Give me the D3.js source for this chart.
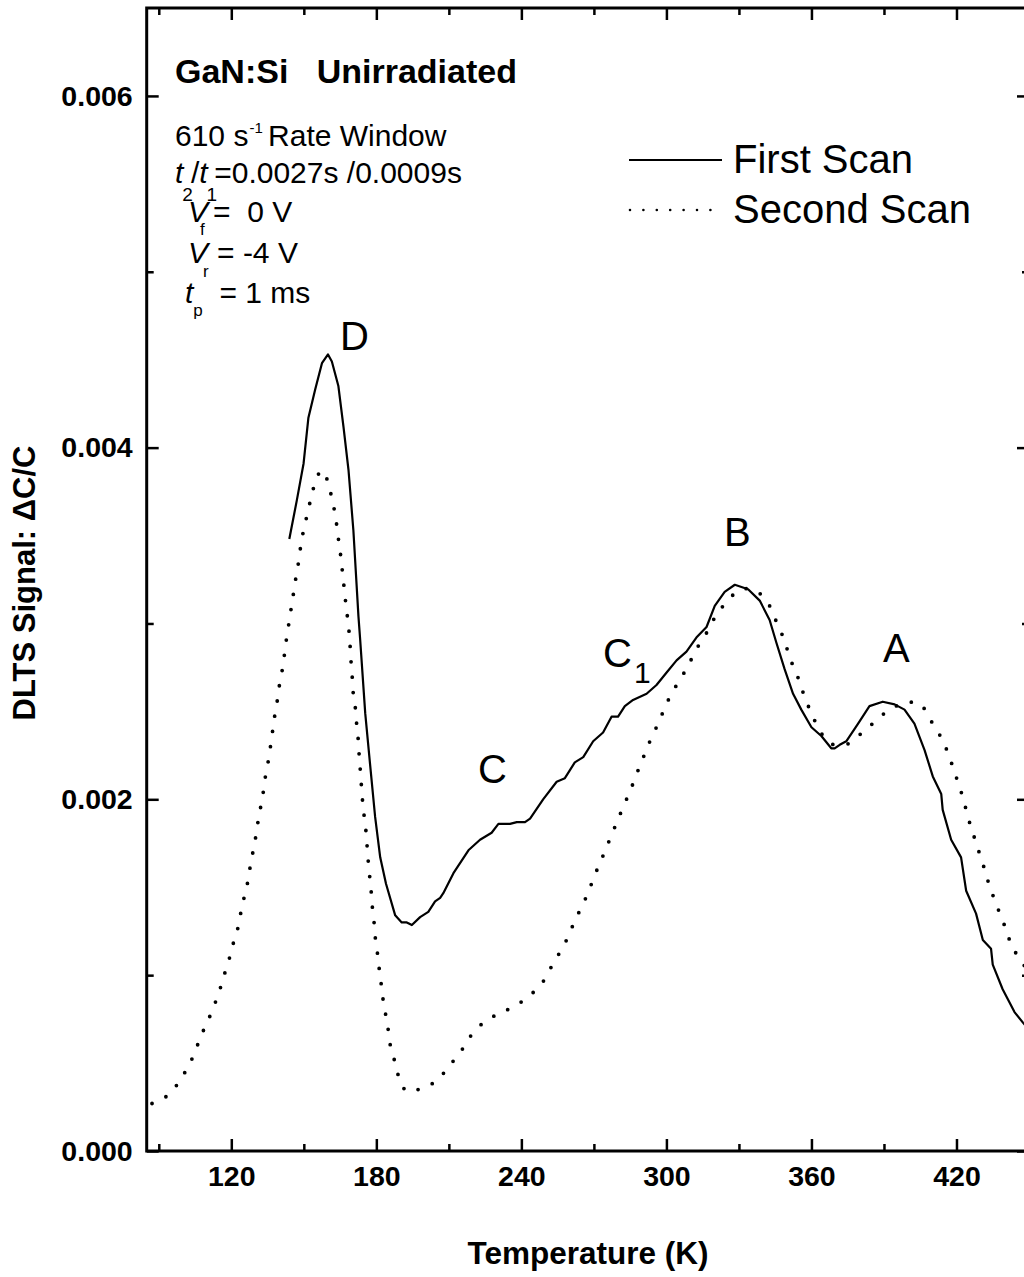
<!DOCTYPE html>
<html>
<head>
<meta charset="utf-8">
<script src="https://cdn.jsdelivr.net/npm/d3@7"></script>
<style>
  html, body { margin: 0; padding: 0; background: #fff; }
  svg { display: block; font-family: "Liberation Sans", Arial, Helvetica, sans-serif; }
  text { white-space: pre; }
</style>
</head>
<body>
<svg id="chart" width="1024" height="1277"></svg>
<script>
// First scan: temperature (K) and DLTS signal ΔC/C
const firstScanT = [144.0, 147.1, 149.9, 151.9, 154.7, 157.5, 160.0, 161.6, 164.3, 166.4, 168.5, 170.5, 172.6, 173.3,
  175.4, 177.4, 179.5, 181.6, 184.0, 187.8, 190.5, 192.6, 194.7, 198.1, 201.5, 204.3, 206.4, 207.7, 211.9, 218.1,
  222.9, 227.7, 230.5, 235.3, 238.1, 241.5, 243.6, 249.0, 254.6, 258.0, 262.1, 265.6, 269.7, 273.8, 277.3, 280.0,
  282.8, 286.2, 291.8, 295.9, 300.0, 304.2, 308.3, 312.4, 316.6, 320.0, 324.1, 328.3, 333.8, 338.6, 342.7, 345.5,
  348.9, 352.4, 355.8, 360.0, 364.1, 368.2, 369.6, 371.7, 374.4, 379.3, 384.0, 389.5, 394.4, 398.5, 402.6, 406.8,
  410.2, 413.7, 414.3, 417.8, 421.9, 424.0, 428.1, 430.9, 434.3, 435.0, 439.1, 444.0, 447.5, 450.0];
const firstScanV = [0.00348, 0.00370, 0.00391, 0.00417, 0.00433, 0.00448, 0.00453, 0.00449, 0.00435, 0.00412, 0.00387, 0.00353, 0.00304, 0.00291,
  0.00249, 0.00220, 0.00190, 0.00167, 0.00152, 0.00134, 0.00130, 0.00130, 0.001285, 0.00133, 0.00136, 0.00142, 0.00144, 0.001466, 0.00158, 0.00171,
  0.00177, 0.00181, 0.00186, 0.00186, 0.00187, 0.00187, 0.00189, 0.00200, 0.00210, 0.00212, 0.00221, 0.00224, 0.00233, 0.00238, 0.00247, 0.00247,
  0.00253, 0.002565, 0.00260, 0.00265, 0.00272, 0.00279, 0.00284, 0.00292, 0.00298, 0.00310, 0.00318, 0.00322, 0.003195, 0.00313, 0.00302, 0.00289,
  0.00274, 0.00260, 0.00251, 0.00241, 0.00236, 0.00229, 0.00229, 0.00231, 0.00233, 0.00243, 0.00253, 0.002555, 0.00254, 0.00251, 0.00243, 0.00228,
  0.00213, 0.00203, 0.00194, 0.00177, 0.00167, 0.00148, 0.00135, 0.00120, 0.00115, 0.00106, 0.00092, 0.00079, 0.00073, 0.00069];

// Second scan: temperature (K) and DLTS signal ΔC/C
const secondScanT = [87.2, 93.1, 98.0, 101.7, 104.8, 107.2, 110.0, 112.7, 115.0, 116.8, 118.9, 120.5, 122.4, 123.7,
  125.1, 126.5, 127.6, 128.8, 129.9, 130.9, 132.0, 133.1, 134.0, 135.2, 136.1, 137.0, 137.9, 138.9, 139.8, 141.0,
  141.9, 142.7, 143.7, 144.7, 145.6, 146.6, 147.6, 148.5, 149.6, 150.9, 152.4, 154.0, 156.1, 158.0, 159.8, 161.4,
  162.7, 163.7, 164.5, 165.3, 166.0, 166.7, 167.4, 168.1, 168.8, 169.2, 169.6, 170.1, 170.5, 171.4, 171.9, 172.5,
  172.9, 173.4, 174.3, 175.0, 175.7, 176.2, 176.7, 177.9, 178.4, 179.1, 179.6, 180.5, 181.2, 182.0, 182.8, 183.8,
  184.9, 185.8, 187.4, 189.1, 192.6, 198.8, 205.0, 209.9, 214.9, 218.8, 224.3, 230.5, 236.7, 243.1, 248.8, 252.5,
  255.9, 259.4, 262.1, 265.2, 267.9, 270.4, 273.2, 275.9, 278.3, 280.7, 283.5, 286.2, 288.7, 291.1, 293.8, 296.9,
  299.6, 302.5, 306.5, 309.7, 313.1, 317.2, 320.7, 324.8, 330.3, 336.5, 342.0, 345.5, 348.2, 350.3, 352.6, 355.1,
  357.2, 360.0, 363.1, 367.5, 374.1, 380.2, 386.1, 392.3, 398.5, 404.7, 408.8, 412.7, 415.7, 418.1, 420.3, 422.2,
  424.0, 425.8, 427.7, 429.8, 431.9, 433.6, 436.0, 438.5, 440.8, 443.0, 447.1, 450.0];
const secondScanV = [0.00027, 0.00031, 0.000385, 0.00047, 0.000556, 0.000647, 0.00073, 0.00082, 0.000906, 0.00099, 0.00108, 0.001166, 0.00125, 0.00134,
  0.00143, 0.00151, 0.00160, 0.00169, 0.00177, 0.00186, 0.001945, 0.00203, 0.00212, 0.00221, 0.00229, 0.00238, 0.00247, 0.00255, 0.00264, 0.00273,
  0.002815, 0.00290, 0.00299, 0.00308, 0.00316, 0.00325, 0.00333, 0.00342, 0.00351, 0.00359, 0.00368, 0.00377, 0.00385, 0.00387, 0.00381, 0.003725,
  0.00364, 0.00355, 0.00346, 0.00338, 0.00329, 0.00320, 0.00311, 0.00303, 0.00294, 0.00286, 0.00277, 0.00268, 0.002595, 0.00251, 0.00242, 0.00234,
  0.00225, 0.00216, 0.00199, 0.00190, 0.00182, 0.00173, 0.00164, 0.00147, 0.00138, 0.001295, 0.00121, 0.00112, 0.001035, 0.00095, 0.00086, 0.00078,
  0.00069, 0.00060, 0.00052, 0.00043, 0.00034, 0.000357, 0.00040, 0.00048, 0.000565, 0.00065, 0.00073, 0.00078, 0.00082, 0.00088, 0.00096, 0.00105,
  0.00113, 0.00122, 0.00131, 0.001395, 0.00148, 0.00157, 0.00166, 0.00175, 0.00183, 0.00191, 0.00200, 0.00209, 0.00218, 0.00226, 0.00235, 0.00244,
  0.00253, 0.00261, 0.00270, 0.00278, 0.00287, 0.00296, 0.00305, 0.00312, 0.00319, 0.00319, 0.003115, 0.00301, 0.002925, 0.00284, 0.00275, 0.00267,
  0.00258, 0.00249, 0.00240, 0.00232, 0.00231, 0.00237, 0.00244, 0.00251, 0.002546, 0.002546, 0.00246, 0.002375, 0.00229, 0.00220, 0.00211, 0.00203,
  0.00194, 0.00185, 0.00177, 0.00168, 0.00159, 0.00151, 0.00142, 0.00133, 0.00125, 0.00116, 0.001077, 0.00100];

// Axis ticks
const xMajorTicks = [120, 180, 240, 300, 360, 420];
const xMinorTicks = [90, 150, 210, 270, 330, 390, 450];
const yMajorTicks = [0, 0.002, 0.004, 0.006];
const yMinorTicks = [0.001, 0.003, 0.005];

// Trap peak labels, anchored in data coordinates
const peakNames = ["D", "B", "C", "C", "A"];
const peakSubs  = ["", "", "", "1", ""];
const peakT     = [165.0, 323.8, 222.1, 273.8, 389.6];
const peakV     = [0.004555, 0.00344, 0.002093, 0.002752, 0.002781];

const seriesNames = ["First Scan", "Second Scan"];

const svg = d3.select("#chart");
const plotLeft = 146.7, plotRight = 1029, plotTop = 8, plotBottom = 1151;

const x = d3.scaleLinear().domain([85, 450]).range([plotLeft, plotRight]);
const y = d3.scaleLinear().domain([0, 0.0065]).range([plotBottom, plotTop]);

svg.append("defs").append("clipPath").attr("id", "plotClip")
  .append("rect").attr("x", plotLeft).attr("y", plotTop)
  .attr("width", plotRight - plotLeft).attr("height", plotBottom - plotTop);

function styleAxis(g, withLabels) {
  g.select(".domain").remove();
  g.selectAll(".tick line").attr("stroke", "#000").attr("stroke-width", 2.5);
  g.selectAll(".tick text")
    .attr("fill", "#000")
    .attr("font-family", "'Liberation Sans', Arial, sans-serif")
    .attr("font-weight", "bold")
    .attr("font-size", withLabels ? 28.5 : 0);
}

// bottom axis (ticks pointing inward)
svg.append("g").attr("transform", `translate(0,${plotBottom})`)
  .call(d3.axisBottom(x).tickValues(xMajorTicks).tickSizeInner(-12).tickSizeOuter(0).tickPadding(15).tickFormat(d3.format("d")))
  .call(g => styleAxis(g, true));
svg.append("g").attr("transform", `translate(0,${plotBottom})`)
  .call(d3.axisBottom(x).tickValues(xMinorTicks).tickSizeInner(-7).tickSizeOuter(0).tickFormat(""))
  .call(g => styleAxis(g, false));

// top axis
svg.append("g").attr("transform", `translate(0,${plotTop})`)
  .call(d3.axisBottom(x).tickValues(xMajorTicks).tickSizeInner(12).tickSizeOuter(0).tickFormat(""))
  .call(g => styleAxis(g, false));
svg.append("g").attr("transform", `translate(0,${plotTop})`)
  .call(d3.axisBottom(x).tickValues(xMinorTicks).tickSizeInner(7).tickSizeOuter(0).tickFormat(""))
  .call(g => styleAxis(g, false));

// left axis
svg.append("g").attr("transform", `translate(${plotLeft},0)`)
  .call(d3.axisLeft(y).tickValues(yMajorTicks).tickSizeInner(-12).tickSizeOuter(0).tickPadding(14).tickFormat(d3.format(".3f")))
  .call(g => styleAxis(g, true));
svg.append("g").attr("transform", `translate(${plotLeft},0)`)
  .call(d3.axisLeft(y).tickValues(yMinorTicks).tickSizeInner(-7).tickSizeOuter(0).tickFormat(""))
  .call(g => styleAxis(g, false));

// right axis
svg.append("g").attr("transform", `translate(${plotRight},0)`)
  .call(d3.axisRight(y).tickValues(yMajorTicks).tickSizeInner(-12).tickSizeOuter(0).tickFormat(""))
  .call(g => styleAxis(g, false));
svg.append("g").attr("transform", `translate(${plotRight},0)`)
  .call(d3.axisRight(y).tickValues(yMinorTicks).tickSizeInner(-7).tickSizeOuter(0).tickFormat(""))
  .call(g => styleAxis(g, false));

// frame
svg.append("rect").attr("x", plotLeft).attr("y", plotTop)
  .attr("width", plotRight - plotLeft).attr("height", plotBottom - plotTop)
  .attr("fill", "none").attr("stroke", "#000").attr("stroke-width", 3);

// curves
const first = firstScanT.map((t, i) => [t, firstScanV[i]]);
const second = secondScanT.map((t, i) => [t, secondScanV[i]]);

const plot = svg.append("g").attr("clip-path", "url(#plotClip)");
plot.append("path").datum(second)
  .attr("d", d3.line().x(d => x(d[0])).y(d => y(d[1])).curve(d3.curveCatmullRom))
  .attr("fill", "none").attr("stroke", "#000").attr("stroke-width", 3.8)
  .attr("stroke-linecap", "round").attr("stroke-dasharray", "0 15.4");
plot.append("path").datum(first)
  .attr("d", d3.line().x(d => x(d[0])).y(d => y(d[1])))
  .attr("fill", "none").attr("stroke", "#000").attr("stroke-width", 2.2)
  .attr("stroke-linejoin", "round");

// axis titles
svg.append("text").attr("x", 588).attr("y", 1264).attr("text-anchor", "middle")
  .attr("font-weight", "bold").attr("font-size", 31.5).text("Temperature (K)");
svg.append("text").attr("transform", "translate(35,583) rotate(-90)").attr("text-anchor", "middle")
  .attr("font-weight", "bold").attr("font-size", 31).text("DLTS Signal: \u0394C/C");

// sample / measurement description
svg.append("text").attr("x", 175).attr("y", 83).attr("font-weight", "bold").attr("font-size", 34)
  .text("GaN:Si   Unirradiated");

function richLine(xPos, yPos, parts) {
  const t = svg.append("text").attr("x", xPos).attr("y", yPos).attr("font-size", 30);
  parts.forEach(p => {
    const s = t.append("tspan").text(p.s);
    if (p.i) s.attr("font-style", "italic");
    if (p.size) s.attr("font-size", p.size);
    if (p.dy) s.attr("dy", p.dy);
    if (p.dx) s.attr("dx", p.dx);
  });
}
richLine(175, 146, [{s: "610 s"}, {s: "-1", size: 15, dy: -13, dx: 1}, {s: " Rate Window", dy: 13, dx: -3}]);
richLine(175, 183, [{s: "t", i: true}, {s: "2", size: 19, dy: 18, dx: -1}, {s: "/", dy: -18, dx: -2},
                    {s: "t", i: true}, {s: "1", size: 19, dy: 18, dx: -1}, {s: "=0.0027s /0.0009s", dy: -18, dx: -3}]);
richLine(188, 222, [{s: "V", i: true}, {s: "f", size: 17, dy: 13, dx: -8}, {s: " =  0 V", dy: -13}]);
richLine(188, 263, [{s: "V", i: true}, {s: "r", size: 17, dy: 14, dx: -5}, {s: " = -4 V", dy: -14}]);
richLine(185, 303, [{s: "t", i: true}, {s: "p", size: 17, dy: 13, dx: 0}, {s: "  = 1 ms", dy: -13}]);

// legend
svg.append("line").attr("x1", 629).attr("x2", 722).attr("y1", 160).attr("y2", 160)
  .attr("stroke", "#000").attr("stroke-width", 2);
svg.append("line").attr("x1", 630).attr("x2", 712).attr("y1", 210).attr("y2", 210)
  .attr("stroke", "#000").attr("stroke-width", 2.6).attr("stroke-linecap", "round").attr("stroke-dasharray", "0 13.4");
svg.append("text").attr("x", 733).attr("y", 173).attr("font-size", 40).text(seriesNames[0]);
svg.append("text").attr("x", 733).attr("y", 223).attr("font-size", 40).text(seriesNames[1]);

// peak labels
peakNames.forEach((name, i) => {
  const t = svg.append("text").attr("x", x(peakT[i])).attr("y", y(peakV[i])).attr("font-size", 40);
  t.append("tspan").text(name);
  if (peakSubs[i]) t.append("tspan").attr("font-size", 30).attr("dy", 16).attr("dx", 2).text(peakSubs[i]);
});
</script>
</body>
</html>
